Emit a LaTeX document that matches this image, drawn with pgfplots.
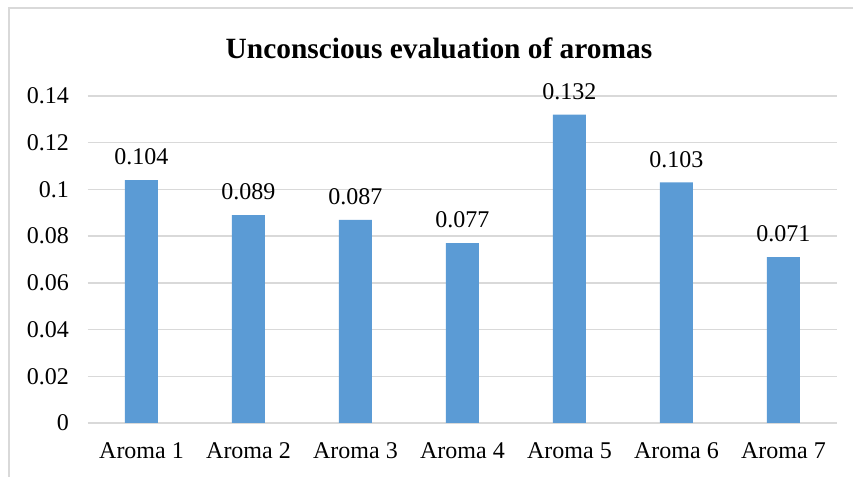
\documentclass[border=0pt]{standalone}
\usepackage{pgfplots}
\pgfplotsset{compat=1.18}
\usepackage{fontspec}
\setmainfont{Liberation Serif}
\definecolor{barblue}{HTML}{5B9BD5}
\definecolor{gridgray}{HTML}{D9D9D9}
\begin{document}
\begin{tikzpicture}
\clip (0,0) rectangle (426.5pt,238.5pt);
\useasboundingbox (0,0) rectangle (426.5pt,238.5pt);
\draw[gridgray, line width=0.75pt] (4.5pt,-20pt) rectangle (460pt,234.5pt);
\node[font=\fontsize{14.7}{16}\selectfont\bfseries] at (219.5pt,214.5pt) {Unconscious evaluation of aromas};
\begin{axis}[
  at={(44pt,27pt)}, anchor=south west,
  scale only axis, width=374.5pt, height=163.5pt,
  xmin=-0.5, xmax=6.5, ymin=0, ymax=0.14,
  ytick={0,0.02,0.04,0.06,0.08,0.1,0.12,0.14},
  yticklabels={0,0.02,0.04,0.06,0.08,0.1,0.12,0.14},
  xtick={0,1,2,3,4,5,6},
  xticklabels={Aroma 1,Aroma 2,Aroma 3,Aroma 4,Aroma 5,Aroma 6,Aroma 7},
  ymajorgrids, grid style={gridgray, line width=0.75pt},
  axis line style={draw=none},
  major tick length=0pt,
  tick label style={font=\fontsize{12}{14}\selectfont},
  yticklabel style={xshift=-6pt},
  xticklabel style={yshift=-6.5pt},
  ytick style={draw=none}, xtick style={draw=none},
  /pgf/number format/assume math mode=true,
  clip=false,
]
\draw[gridgray, line width=0.75pt] (axis cs:-0.5,0) -- (axis cs:6.5,0);
\addplot[ybar, bar width=16.5pt, fill=barblue, draw=none,
  nodes near coords, point meta=explicit symbolic,
  every node near coord/.style={font=\fontsize{12}{14}\selectfont, text=black, anchor=south, yshift=4pt}]
  table[meta=lab] {
x y lab
0 0.104 0.104
1 0.089 0.089
2 0.087 0.087
3 0.077 0.077
4 0.132 0.132
5 0.103 0.103
6 0.071 0.071
};
\end{axis}
\end{tikzpicture}
\end{document}
